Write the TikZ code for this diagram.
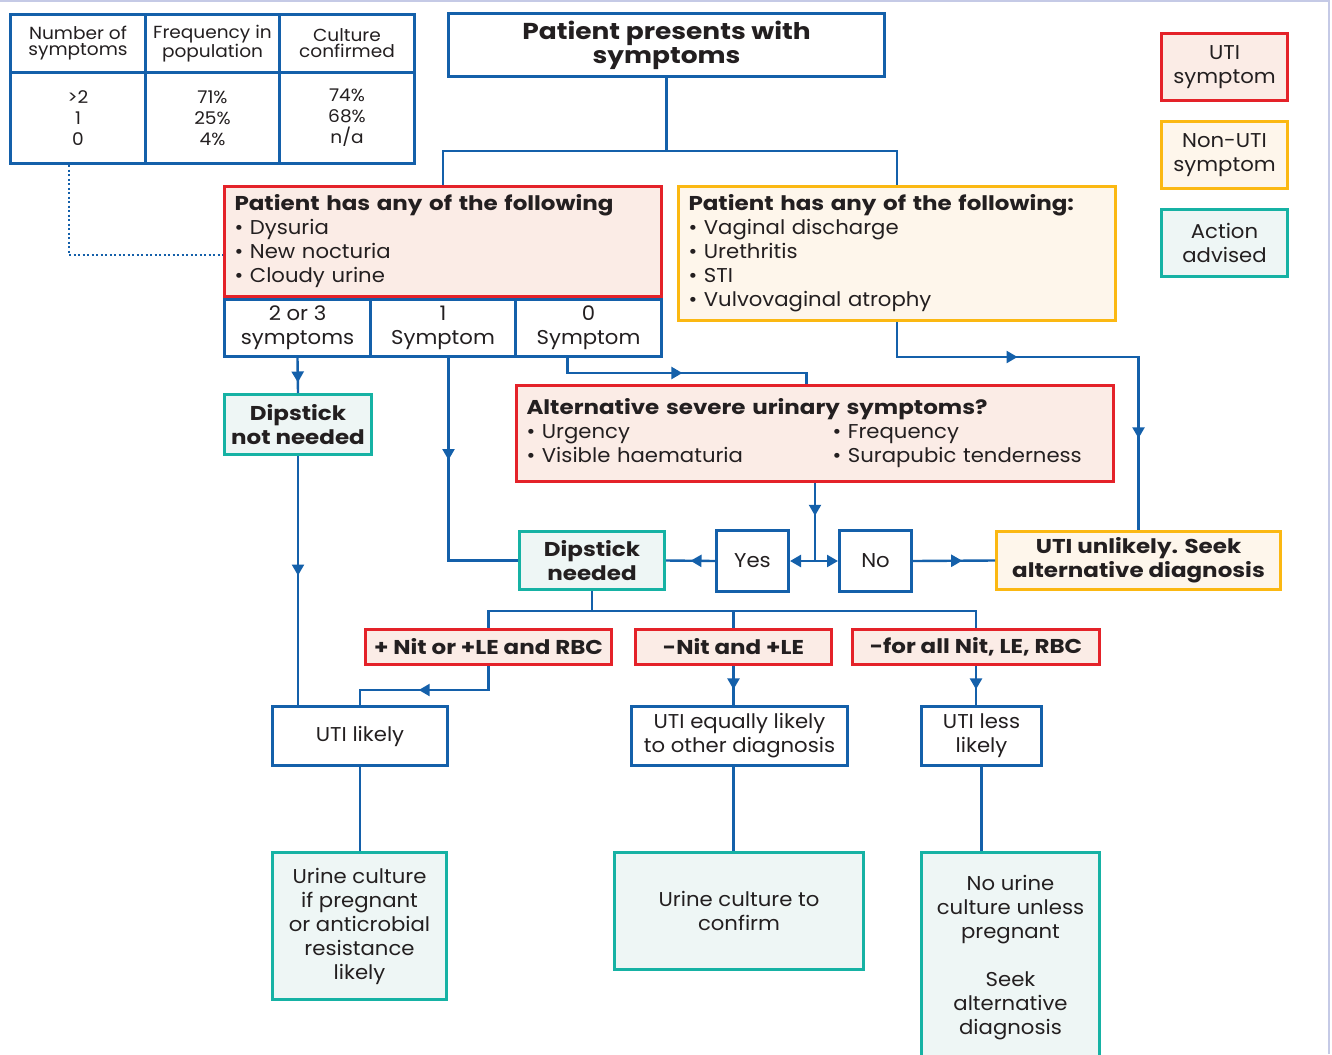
\documentclass[tikz,border=0pt]{standalone}
\usepackage{fontspec}
\setmainfont{Poppins}[FakeStretch=1.06, BoldFeatures={FakeStretch=1.15}]
\usetikzlibrary{positioning, arrows.meta, decorations.markings, calc}
\definecolor{flowBlue}{HTML}{1460AA}
\definecolor{utiRed}{HTML}{E42229}
\definecolor{utiFill}{HTML}{FBECE6}
\definecolor{nonUtiYellow}{HTML}{FBB812}
\definecolor{nonUtiFill}{HTML}{FEF6EB}
\definecolor{actionTeal}{HTML}{16B2A4}
\definecolor{actionFill}{HTML}{EEF6F5}
\definecolor{inkText}{HTML}{231F20}
\definecolor{frameGrey}{HTML}{C5CAE6}
\newcommand{\bodyFont}{\fontsize{20}{24}\selectfont}
\newcommand{\boldFont}{\fontsize{20}{24}\selectfont\bfseries}
\newcommand{\headFont}{\fontsize{23}{24}\selectfont\bfseries}
\newcommand{\tableFont}{\fontsize{17.5}{16}\selectfont}
\newcommand{\tableBodyFont}{\fontsize{17.5}{21}\selectfont}
\tikzstyle{flowBox}=[draw=flowBlue, fill=white, line width=3pt, inner sep=0pt, anchor=north west, text=inkText, font=\bodyFont, align=center]
\tikzstyle{utiBox}=[flowBox, draw=utiRed, fill=utiFill]
\tikzstyle{nonUtiBox}=[flowBox, draw=nonUtiYellow, fill=nonUtiFill]
\tikzstyle{actionBox}=[flowBox, draw=actionTeal, fill=actionFill]
\tikzstyle{tableCell}=[flowBox, font=\tableFont]
\tikzstyle{link}=[flowBlue, line width=2.4pt]
\tikzstyle{dotLink}=[flowBlue, line width=2pt, dash pattern=on 2pt off 2.5pt]
\tikzstyle{endArrow}=[-{Triangle[width=12pt,length=11pt]}]
\tikzset{
  boxSize/.style 2 args={minimum width=#1pt, minimum height=#2pt},
  arrowAt/.style={postaction={decorate, decoration={markings,
    mark=at position #1 with {\arrow{Triangle[width=12pt,length=11pt]}}}}}
}

\begin{document}
\begin{tikzpicture}[x=1pt, y=-1pt]
  \useasboundingbox (0,0) rectangle (1332,1054);
  \draw[frameGrey, line width=1.5pt] (0,1) -- (1329,1) -- (1329,1054);

  \node[tableCell, boxSize={135}{58}] (headCount) at (9,13) {Number of\\symptoms};
  \node[tableCell, boxSize={134}{58}] (headFreq) at (144,13) {Frequency in\\population};
  \node[tableCell, boxSize={135}{58}] (headCult) at (278,13) {Culture\\confirmed};
  \node[tableCell, font=\tableBodyFont, boxSize={135}{91}] (bodyCount) at (9,71) {>2\\1\\0};
  \node[tableCell, font=\tableBodyFont, boxSize={134}{91}] (bodyFreq) at (144,71) {71\%\\25\%\\4\%};
  \node[tableCell, font=\tableBodyFont, boxSize={135}{91}] (bodyCult) at (278,71) {74\%\\68\%\\n/a};

  \node[flowBox, font=\headFont, boxSize={436}{63}] (presents) at (447,12) {Patient presents with\\symptoms};

  \node[utiBox, boxSize={437}{110}, text width=417pt, align=left] (urinary) at (223,185)
    {\textbf{Patient has any of the following}\\\textbullet\ Dysuria\\\textbullet\ New nocturia\\\textbullet\ Cloudy urine};
  \node[flowBox, boxSize={146}{57}] (cellTwo) at (223,298) {2 or 3\\symptoms};
  \node[flowBox, boxSize={145}{57}] (cellOne) at (369,298) {1\\Symptom};
  \node[flowBox, boxSize={146}{57}] (cellZero) at (514,298) {0\\Symptom};

  \node[nonUtiBox, boxSize={437}{134}, text width=417pt, align=left] (nonUti) at (677,185)
    {\textbf{Patient has any of the following:}\\\textbullet\ Vaginal discharge\\\textbullet\ Urethritis\\\textbullet\ STI\\\textbullet\ Vulvovaginal atrophy};

  \node[utiBox, boxSize={126}{67}] (legendUti) at (1160,32) {UTI\\symptom};
  \node[nonUtiBox, boxSize={126}{67}] (legendNonUti) at (1160,120) {Non-UTI\\symptom};
  \node[actionBox, boxSize={126}{67}] (legendAction) at (1160,208) {Action\\advised};

  \node[actionBox, font=\boldFont, boxSize={147}{60}] (dipNot) at (223,393) {Dipstick\\not needed};

  \node[utiBox, boxSize={597}{96}, text width=577pt, align=left] (severe) at (515,384)
    {\textbf{Alternative severe urinary symptoms?}\\
     \makebox[306pt][l]{\textbullet\ Urgency}\textbullet\ Frequency\\
     \makebox[306pt][l]{\textbullet\ Visible haematuria}\textbullet\ Surapubic tenderness};

  \node[flowBox, boxSize={72}{61}] (yesBox) at (715,529) {Yes};
  \node[flowBox, boxSize={72}{61}] (noBox) at (838,529) {No};
  \node[actionBox, font=\boldFont, boxSize={145}{58}] (dipNeed) at (518,530) {Dipstick\\needed};
  \node[nonUtiBox, font=\boldFont, boxSize={284}{58}] (unlikely) at (995,530) {UTI unlikely. Seek\\alternative diagnosis};

  \node[utiBox, font=\boldFont, boxSize={246}{35}] (posNit) at (364,628) {+ Nit or +LE and RBC};
  \node[utiBox, font=\boldFont, boxSize={196}{35}] (negLe) at (634,628) {-Nit and +LE};
  \node[utiBox, font=\boldFont, boxSize={247}{35}] (negAll) at (851,628) {-for all Nit, LE, RBC};

  \node[flowBox, boxSize={175}{59}] (utiLikely) at (271,705) {UTI likely};
  \node[flowBox, boxSize={216}{59}] (utiEqual) at (630,705) {UTI equally likely\\to other diagnosis};
  \node[flowBox, boxSize={120}{59}] (utiLess) at (920,705) {UTI less\\likely};

  \node[actionBox, boxSize={174}{147}] (cultPreg) at (271,851) {Urine culture\\if pregnant\\or anticrobial\\resistance\\likely};
  \node[actionBox, boxSize={249}{117}] (cultConfirm) at (613,851) {Urine culture to\\confirm};
  \node[actionBox, boxSize={178}{210}] (cultNone) at (920,851) {No urine\\culture unless\\pregnant\\[24pt]Seek\\alternative\\diagnosis};

  \draw[dotLink] ([xshift=-9.5pt]bodyCount.south) |- ([yshift=-13pt]urinary.west);

  \coordinate (split) at ([yshift=-73pt]presents.south);
  \draw[link] (presents.south) -- (split);
  \draw[link] (urinary.north) |- (split) -| (nonUti.north);

  \draw[link, arrowAt=0.7] (cellTwo.south) -- (dipNot.north);
  \draw[link, arrowAt=0.375] ([xshift=5.5pt]cellOne.south) |- (dipNeed.west);
  \draw[link, arrowAt=0.49] ([xshift=-21pt]cellZero.south) -- ++(0,15) -| ([xshift=-8.5pt]severe.north);
  \draw[link, arrowAt=0.48] (dipNot.south) -- (dipNot.south |- utiLikely.north);

  \coordinate (fork) at (severe.south |- yesBox.east);
  \draw[link, arrowAt=0.42] (severe.south) -- (fork);
  \draw[link, endArrow] (fork) -- (yesBox.east);
  \draw[link, endArrow] (fork) -- (noBox.west);
  \draw[link, arrowAt=0.5] (yesBox.west) -- (dipNeed.east);
  \draw[link, arrowAt=0.6] (noBox.east) -- (unlikely.west);
  \draw[link, arrowAt=0.346, arrowAt=0.796] (nonUti.south) -- ++(0,35) -| (unlikely.north);

  \draw[link] (dipNeed.south) -- ++(0,20) coordinate (branch);
  \draw[link] (posNit.north) |- (branch) -| (negAll.north);
  \draw[link] (branch -| negLe.north) -- (negLe.north);
  \draw[link, arrowAt=0.56] (posNit.south) -- ++(0,24) -| (utiLikely.north);
  \draw[link, arrowAt=0.6] (negLe.south) -- (negLe.south |- utiEqual.north);
  \draw[link, arrowAt=0.6] (negAll.south) -- (negAll.south |- utiLess.north);

  \draw[link] (utiLikely.south) -- (utiLikely.south |- cultPreg.north);
  \draw[link] (negLe.south |- utiEqual.south) -- (negLe.south |- cultConfirm.north);
  \draw[link] (utiLess.south) -- (utiLess.south |- cultNone.north);
\end{tikzpicture}
\end{document}
